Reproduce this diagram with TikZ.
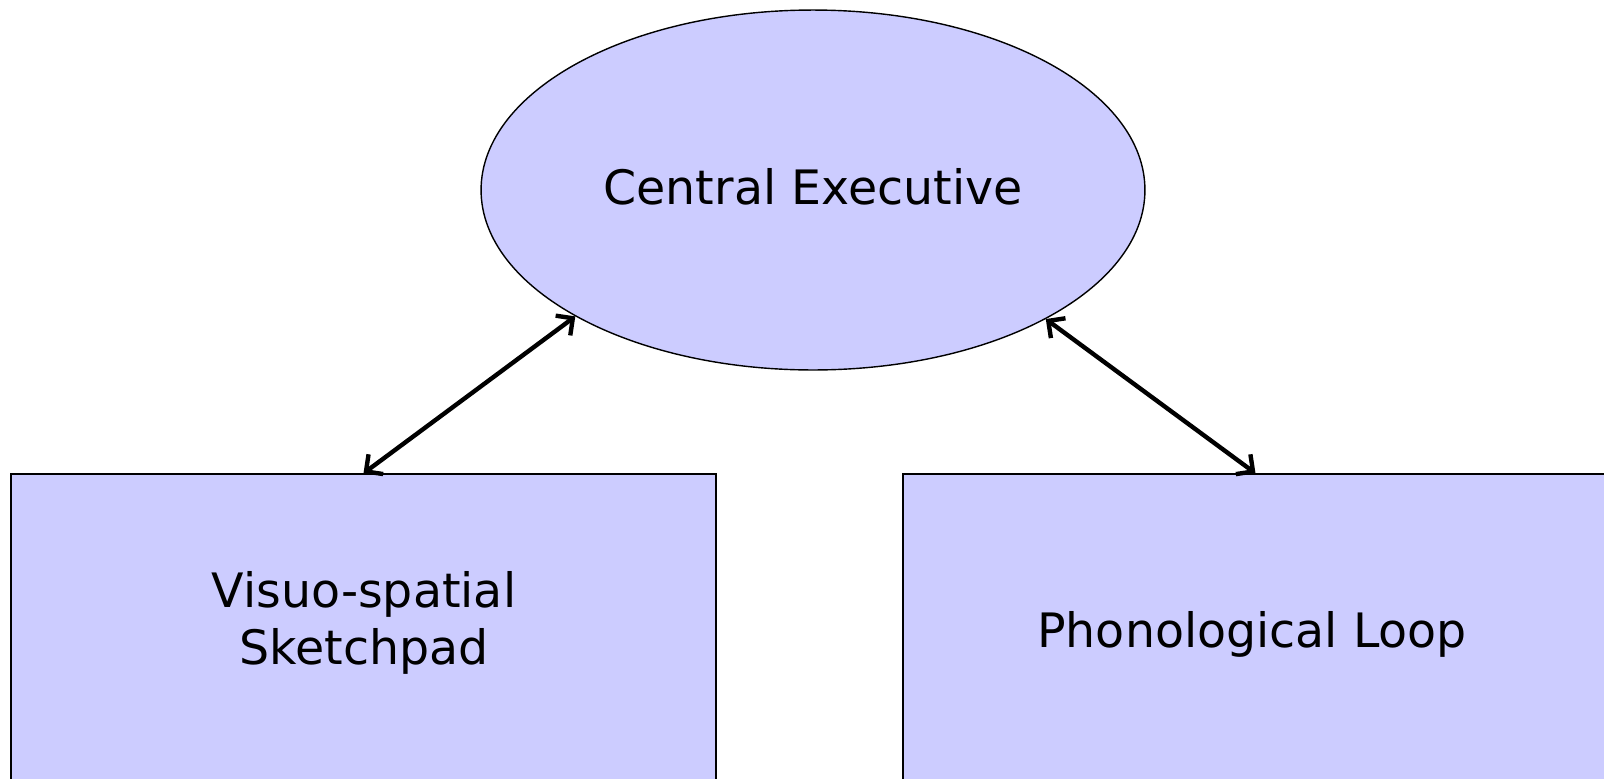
\documentclass[tikz,border=0pt]{standalone}
\usepackage{fontspec}
\setmainfont{DejaVu Sans}
\usepackage{tikz}
\usetikzlibrary{positioning,shapes.geometric,arrows.meta}

\begin{document}
\begin{tikzpicture}[x=0.02cm, y=-0.02cm,
    exec/.style={ellipse, draw=black, fill=blue!20, line width=0.8pt, minimum width=13.28cm, minimum height=7.2cm, inner sep=0pt},
    store/.style={rectangle, draw=black, fill=blue!20, line width=0.8pt, minimum width=14.1cm, minimum height=6.52cm, inner sep=0pt},
    label/.style={align=center, font=\fontsize{27}{32.4}\selectfont},
    link/.style={{Straight Barb[length=7pt,width=14pt]}-{Straight Barb[length=7pt,width=14pt]}, line width=2.5pt, line cap=round}]

\useasboundingbox (0,0) rectangle (1604,778);

% Central executive
\node[exec] (ce) at (813, 190) {};
\node[label] (cetext) at (813, 187) {Central Executive};

% Slave systems
\node[store] (vss) at (363.5, 637) {};
\node[label] (vsstext) at (364, 623) {Visuo-spatial\\Sketchpad};

\node[store] (pl) at (1255.5, 637) {};
\node[label] (pltext) at (1252, 634) {Phonological Loop};

% Links
\draw[link] (ce.208.3) -- (vss.north);
\draw[link] (ce.331.7) -- (pl.north);

\end{tikzpicture}
\end{document}
